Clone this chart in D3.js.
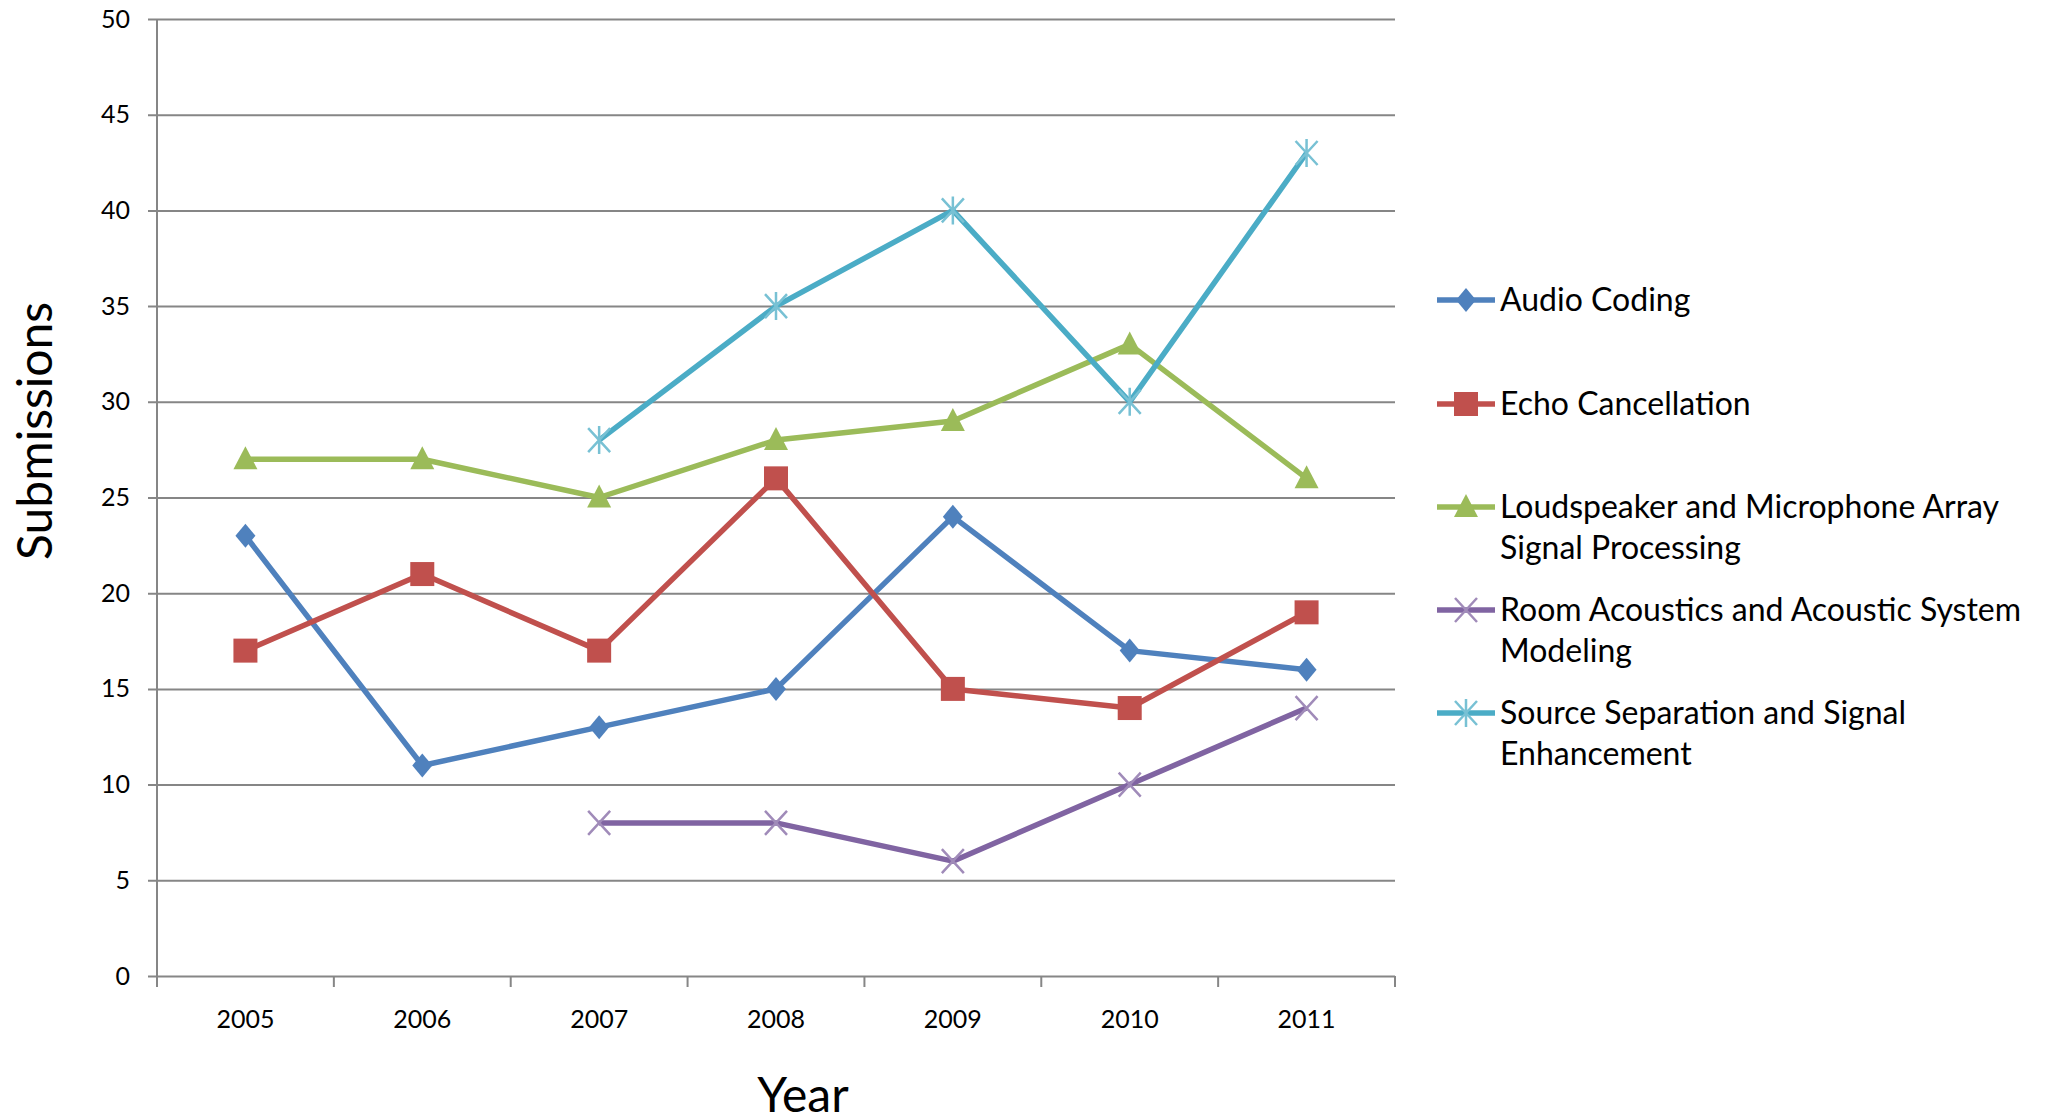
<!DOCTYPE html>
<html>
<head>
<meta charset="utf-8">
<script src="https://cdn.jsdelivr.net/npm/d3@7"></script>
<style>
  body { margin: 0; background: #fff; }
  text { font-family: Lato, "Open Sans", sans-serif; fill: #000; }
</style>
</head>
<body>
<script>
// chart data
const years = ["2005", "2006", "2007", "2008", "2009", "2010", "2011"];
const audioCoding = [23, 11, 13, 15, 24, 17, 16];
const echoCancellation = [17, 21, 17, 26, 15, 14, 19];
const loudspeakerArray = [27, 27, 25, 28, 29, 33, 26];
const roomAcoustics = [null, null, 8, 8, 6, 10, 14];
const sourceSeparation = [null, null, 28, 35, 40, 30, 43];
const yTicks = [0, 5, 10, 15, 20, 25, 30, 35, 40, 45, 50];

const seriesNames = [
  ["Audio Coding"],
  ["Echo Cancellation"],
  ["Loudspeaker and Microphone Array", "Signal Processing"],
  ["Room Acoustics and Acoustic System", "Modeling"],
  ["Source Separation and Signal", "Enhancement"]
];

const series = [
  {name: seriesNames[0], values: audioCoding, color: "#4F81BD", marker: "diamond"},
  {name: seriesNames[1], values: echoCancellation, color: "#C0504D", marker: "square"},
  {name: seriesNames[2], values: loudspeakerArray, color: "#9BBB59", marker: "triangle"},
  {name: seriesNames[3], values: roomAcoustics, color: "#8064A2", marker: "x"},
  {name: seriesNames[4], values: sourceSeparation, color: "#4BACC6", marker: "star"}
];

var width = 2048
var height = 1119
const margin = {top: 19, left: 157, right: 653, bottom: 143}
const innerWidth = width - margin.left - margin.right
const innerHeight = height - margin.top - margin.bottom

const svg = d3.select("body").append("svg")
    .attr("width", width)
    .attr("height", height)

const g = svg.append("g")
    .attr("transform", "translate(" + margin.left + "," + margin.top + ")")

const xScale = d3.scaleBand().domain(years).range([0, innerWidth])
const yScale = d3.scaleLinear().domain([0, 50]).range([innerHeight, 0])
const gridColor = "#868686"

// horizontal gridlines + y labels
const yAxis = g.append("g")
    .call(d3.axisLeft(yScale).tickValues(yTicks).tickSize(-innerWidth).tickPadding(27))
yAxis.select(".domain").remove()
yAxis.selectAll(".tick line")
    .attr("x1", -9)
    .attr("stroke", gridColor)
    .attr("stroke-width", 2)
yAxis.selectAll(".tick text")
    .attr("font-size", "25px")
    .attr("font-family", "Lato, sans-serif")
    .attr("fill", "#000")

// y axis line
g.append("line")
    .attr("x1", 0).attr("x2", 0)
    .attr("y1", 0).attr("y2", innerHeight)
    .attr("stroke", gridColor).attr("stroke-width", 2)

// x axis: ticks on category boundaries
const boundaries = d3.range(years.length + 1).map(i => i * xScale.step())
g.append("g").selectAll("line")
    .data(boundaries)
    .enter().append("line")
    .attr("x1", d => d).attr("x2", d => d)
    .attr("y1", innerHeight).attr("y2", innerHeight + 11)
    .attr("stroke", gridColor).attr("stroke-width", 2)

const xAxis = g.append("g")
    .attr("transform", "translate(0," + innerHeight + ")")
    .call(d3.axisBottom(xScale).tickSize(0).tickPadding(34))
xAxis.select(".domain").remove()
xAxis.selectAll(".tick text")
    .attr("font-size", "25px")
    .attr("font-family", "Lato, sans-serif")
    .attr("fill", "#000")

// axis titles
svg.append("text")
    .attr("transform", "translate(52," + 431 + ") rotate(-90)")
    .attr("text-anchor", "middle")
    .attr("font-size", "48px")
    .text("Submissions")

svg.append("text")
    .attr("x", 803)
    .attr("y", 1112)
    .attr("text-anchor", "middle")
    .attr("font-size", "48px")
    .text("Year")

// marker drawing
function lighten(c) { return d3.interpolateRgb(c, "#fff")(0.25) }
function drawMarker(sel, type, color) {
  if (type === "diamond") {
    sel.append("path").attr("d", "M0,-12L10,0L0,12L-10,0Z").attr("fill", color)
  } else if (type === "square") {
    sel.append("rect").attr("x", -12).attr("y", -12).attr("width", 24).attr("height", 24).attr("fill", color)
  } else if (type === "triangle") {
    sel.append("path").attr("d", "M0,-13L12,10L-12,10Z").attr("fill", color)
  } else if (type === "x") {
    sel.append("path").attr("d", "M-11,-12L11,12M-11,12L11,-12")
        .attr("stroke", lighten(color)).attr("stroke-width", 2.5).attr("fill", "none")
  } else if (type === "star") {
    sel.append("path").attr("d", "M-11,-12L11,12M-11,12L11,-12M0,-14L0,14")
        .attr("stroke", lighten(color)).attr("stroke-width", 2.5).attr("fill", "none")
  }
}

const line = d3.line()
    .defined(d => d.v !== null)
    .x(d => xScale(d.year) + xScale.bandwidth() / 2)
    .y(d => yScale(d.v))

series.forEach(s => {
  const pts = s.values.map((v, i) => ({year: years[i], v: v}))
  g.append("path")
      .datum(pts)
      .attr("d", line)
      .attr("fill", "none")
      .attr("stroke", s.color)
      .attr("stroke-width", 5.5)
      .attr("stroke-linejoin", "round")
  pts.filter(d => d.v !== null).forEach(d => {
    const m = g.append("g")
        .attr("transform", "translate(" + (xScale(d.year) + xScale.bandwidth() / 2) + "," + yScale(d.v) + ")")
    drawMarker(m, s.marker, s.color)
  })
})

// legend
const legendY = [300, 404, 507, 610, 713]
const legend = svg.append("g").attr("transform", "translate(1437,0)")
series.forEach((s, i) => {
  const item = legend.append("g").attr("transform", "translate(0," + legendY[i] + ")")
  item.append("line")
      .attr("x1", 0).attr("x2", 58)
      .attr("stroke", s.color).attr("stroke-width", 5.5)
  const m = item.append("g").attr("transform", "translate(29,0)")
  drawMarker(m, s.marker, s.color)
  const t = item.append("text")
      .attr("x", 63)
      .attr("y", 11)
      .attr("font-size", "32px")
  s.name.forEach((ln, j) => {
    t.append("tspan").attr("x", 63).attr("dy", j === 0 ? 0 : 41).text(ln)
  })
})
</script>
</body>
</html>
